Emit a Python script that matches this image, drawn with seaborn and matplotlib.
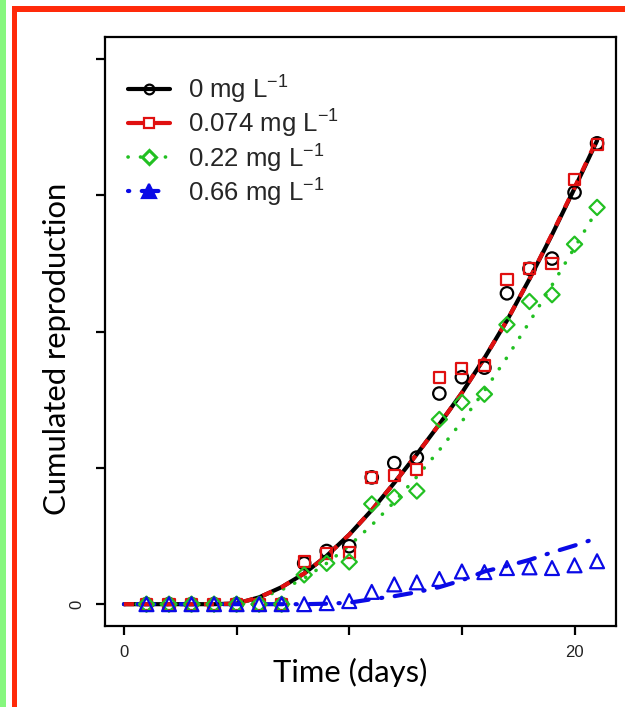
import numpy as np
import pandas as pd
import matplotlib
matplotlib.use("Agg")
import matplotlib.pyplot as plt
from matplotlib.lines import Line2D
from matplotlib.patches import Rectangle
import seaborn as sns

# Observation days and fitted-curve days
days = list(range(1, 22))
fit_days = list(range(0, 22))

# Observed cumulated reproduction per concentration
obs_0 = [0, 0, 0, 0, 0, 0, 0, 6.0, 7.8, 8.5, 18.6, 20.7, 21.5, 30.9, 33.3, 34.7, 45.6, 49.2, 50.7, 60.4, 67.6]
obs_0074 = [0, 0, 0, 0, 0, 0, 0, 6.2, 7.5, 7.6, 18.6, 18.9, 19.8, 33.3, 34.6, 35.0, 47.6, 49.2, 50.0, 62.3, 67.4]
obs_022 = [0, 0, 0, 0, 0, 0, 0, 4.3, 6.0, 6.2, 14.7, 15.7, 16.6, 27.1, 29.6, 30.8, 41.0, 44.4, 45.4, 52.8, 58.2]
obs_066 = [0, 0, 0, 0, 0, 0, 0, 0, 0.15, 0.45, 1.8, 2.9, 3.2, 3.7, 4.8, 4.7, 5.3, 5.4, 5.3, 5.7, 6.3]

# Fitted curves
fit_0 = [0, 0, 0, 0, 0, 0.1, 1.0, 2.5, 4.5, 7.1, 10.2, 13.8, 17.8, 22.0, 26.4, 31.0, 36.1, 41.6, 47.7, 54.2, 61.0, 68.0]
fit_0074 = [0, 0, 0, 0, 0, 0.1, 1.0, 2.5, 4.5, 7.1, 10.2, 13.8, 17.8, 22.0, 26.4, 31.0, 36.1, 41.6, 47.7, 54.3, 61.1, 68.2]
fit_022 = [0, 0, 0, 0, 0, 0.1, 0.85, 2.1, 3.8, 6.0, 8.6, 11.6, 15.0, 18.7, 22.6, 26.8, 31.3, 36.2, 41.4, 46.8, 52.3, 57.8]
fit_066 = [0, 0, 0, 0, 0, 0, 0, 0, 0, 0.07, 0.22, 0.73, 1.17, 1.76, 2.5, 3.5, 4.8, 5.6, 6.5, 7.6, 8.6, 9.7]

labels = [r"0 mg L$^{-1}$", r"0.074 mg L$^{-1}$", r"0.22 mg L$^{-1}$", r"0.66 mg L$^{-1}$"]
colors = ["#000000", "#E01010", "#22C022", "#0A0AE6"]

x_ticks = [0, 5, 10, 15, 20]
x_ticklabels = ["0", "", "", "", "20"]
y_ticks = [0, 20, 40, 60, 80]
y_ticklabels = ["0", "", "", "", ""]

sns.set_theme(style="white")
plt.rcParams["font.family"] = ["Liberation Sans", "DejaVu Sans"]
plt.rcParams["mathtext.fontset"] = "custom"
plt.rcParams["mathtext.rm"] = "Liberation Sans"

fig = plt.figure(figsize=(6.25, 7.07), dpi=100)
ax = fig.add_axes([105 / 625, 1 - 626 / 707, 511 / 625, 589 / 707])

fits = pd.DataFrame({"day": fit_days, "c0": fit_0, "c1": fit_0074, "c2": fit_022, "c3": fit_066})
obs = pd.DataFrame({"day": days, "c0": obs_0, "c1": obs_0074, "c2": obs_022, "c3": obs_066})

lw = 3.0
sns.lineplot(data=fits, x="day", y="c0", ax=ax, color=colors[0], lw=lw, zorder=3)
sns.lineplot(data=fits, x="day", y="c1", ax=ax, color=colors[1], lw=lw, zorder=4,
             dashes=False, linestyle=(0, (2.4, 2.4)))
sns.lineplot(data=fits, x="day", y="c2", ax=ax, color=colors[2], lw=2.6, zorder=3,
             linestyle=(0, (0.05, 3.4)), dash_capstyle="round")
sns.lineplot(data=fits, x="day", y="c3", ax=ax, color=colors[3], lw=lw, zorder=3,
             linestyle=(0, (0.3, 3.0, 4.0, 3.0)), dash_capstyle="round")

mew = 1.6
sns.scatterplot(data=obs, x="day", y="c0", ax=ax, marker="o", s=80, facecolor="none",
                edgecolor=colors[0], linewidth=mew, zorder=5)
sns.scatterplot(data=obs, x="day", y="c1", ax=ax, marker="s", s=64, facecolor="none",
                edgecolor=colors[1], linewidth=mew, zorder=5)
sns.scatterplot(data=obs, x="day", y="c2", ax=ax, marker="D", s=60, facecolor="none",
                edgecolor=colors[2], linewidth=mew, zorder=5)
sns.scatterplot(data=obs, x="day", y="c3", ax=ax, marker="^", s=100, facecolor="none",
                edgecolor=colors[3], linewidth=mew, zorder=5)

ax.set_xlim(-0.84, 21.84)
ax.set_ylim(-3.2, 83.2)
ax.set_xticks(x_ticks)
ax.set_xticklabels(x_ticklabels)
ax.set_yticks(y_ticks)
ax.set_yticklabels(y_ticklabels, rotation=90, va="center")
ax.tick_params(axis="both", direction="out", length=6.5, width=1.6, color="black",
               labelsize=12, labelcolor="#222222", bottom=True, left=True)
ax.tick_params(axis="x", pad=7)
ax.tick_params(axis="y", pad=8)
for sp in ax.spines.values():
    sp.set_linewidth(1.6)
    sp.set_color("black")

ax.set_xlabel("Time (days)", family="Lato", fontsize=22.3, color="black")
ax.set_ylabel("Cumulated reproduction", family="Lato", fontsize=22.3, color="black")
ax.xaxis.set_label_coords((350 - 105) / 511, -(672 - 626) / 589)
ax.yaxis.set_label_coords(-(105 - 57) / 511, (626 - 349) / 589)
ax.xaxis.label.set_va("center")
ax.yaxis.label.set_va("center")

handles = [
    Line2D([], [], color=colors[0], lw=lw, marker="o", ms=7, mfc="none", mec=colors[0], mew=mew),
    Line2D([], [], color=colors[1], lw=lw, marker="s", ms=7, mfc="white", mec=colors[1], mew=mew),
    Line2D([], [], color=colors[2], lw=2.6, linestyle=(0, (0.05, 3.4)), dash_capstyle="round",
           marker="D", ms=7, mfc="white", mec=colors[2], mew=2.2),
    Line2D([], [], color=colors[3], lw=lw, linestyle=(0, (0.3, 3.0, 4.0, 3.0)), dash_capstyle="round",
           marker="^", ms=10, mfc=colors[3], mec=colors[3], mew=mew),
]
leg = ax.legend(handles, labels, loc="upper left", bbox_to_anchor=(0.025, 0.9576), frameon=False,
                fontsize=18.5, handlelength=1.63, handletextpad=0.7, labelspacing=0.05,
                borderaxespad=0.0)

# Page frame strips
fig.patches.append(Rectangle((0, 0), 6 / 625, 1, transform=fig.transFigure,
                             facecolor="#86F77E", edgecolor="none", zorder=0))
fig.patches.append(Rectangle((12 / 625, 0), 5.5 / 625, 1 - 6 / 707, transform=fig.transFigure,
                             facecolor="#FF2A0A", edgecolor="none", zorder=0))
fig.patches.append(Rectangle((12 / 625, 1 - 12 / 707), 1, 6 / 707, transform=fig.transFigure,
                             facecolor="#FF2A0A", edgecolor="none", zorder=0))

fig.savefig("out.png", dpi=100)
